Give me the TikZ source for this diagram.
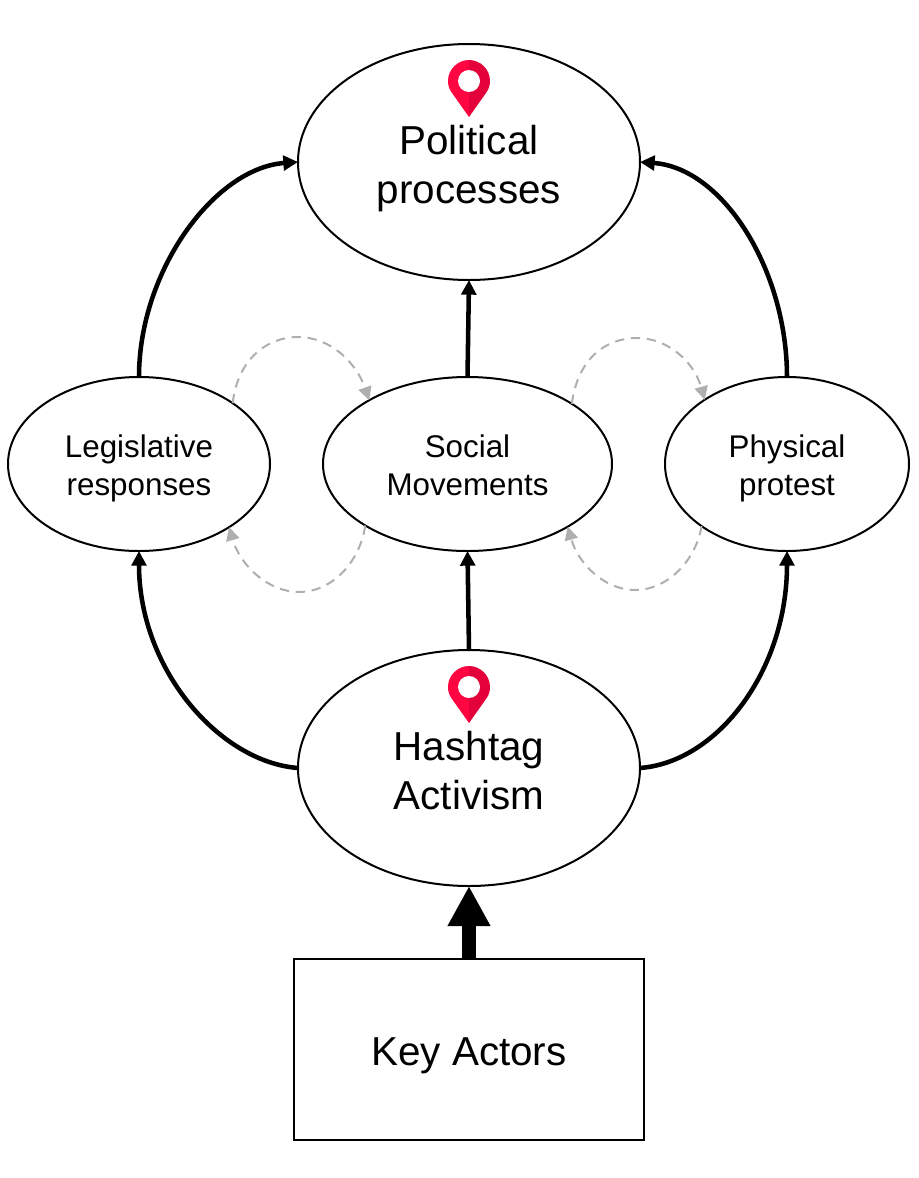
\documentclass[tikz,border=0pt]{standalone}
\usepackage{fontspec}
\setmainfont{Liberation Sans}
\usetikzlibrary{arrows.meta,shapes.geometric}
\definecolor{pinL}{HTML}{FF0541}
\definecolor{pinR}{HTML}{E4003A}
\definecolor{loopgray}{HTML}{B0AEAE}
\tikzset{
  oval/.style={ellipse,draw=black,line width=1.5pt,inner sep=0pt,outer sep=0pt},
  bigoval/.style={oval,minimum width=256.5pt,minimum height=177pt},
  smalltext/.style={align=center,inner sep=0pt,font=\fontsize{23.5pt}{28.5pt}\selectfont},
  bigtext/.style={align=center,inner sep=0pt,font=\fontsize{30.3pt}{36.75pt}\selectfont},
  flow/.style={line width=3.4pt,-{Triangle[length=11pt,width=11pt]}},
  loopback/.style={line width=1.5pt,loopgray,dash pattern=on 7pt off 5pt,-{Triangle[length=10pt,width=10pt]}},
  bigarrow/.style={line width=10.5pt,-{Triangle[length=30pt,width=30pt]}},
  actorbox/.style={rectangle,draw=black,line width=1.5pt,inner sep=0pt,outer sep=0pt,minimum width=262.5pt,minimum height=135.75pt},
  pin/.pic={
    \fill[pinL] (0,36) -- (-17,12) .. controls (-20,8) and (-21,4) .. (-21,0) .. controls (-21,-12) and (-11,-21) .. (0,-21) -- cycle;
    \fill[pinR] (0,36) -- (17,12) .. controls (20,8) and (21,4) .. (21,0) .. controls (21,-12) and (11,-21) .. (0,-21) -- cycle;
    \fill[white] (0,0) circle[radius=8.25pt];
  }
}
\begin{document}
\begin{tikzpicture}[x=0.75pt,y=-0.75pt]
\useasboundingbox (0,0) rectangle (918,1178);
\node[bigoval] (pol) at (469,162) {};
\node[bigoval] (hash) at (469,768) {};
\node[oval,minimum width=196.5pt,minimum height=130.5pt] (leg) at (139,464) {};
\node[oval,minimum width=216.75pt,minimum height=130.5pt] (soc) at (467.5,464) {};
\node[oval,minimum width=183pt,minimum height=130.5pt] (phy) at (787,464) {};
\node[actorbox] (key) at (469,1049.5) {};
\node[bigtext] (poltext) at (469,169) {Political\\processes};
\node[bigtext] (hashtext) at (469,771) {Hashtag\\Activism};
\node[smalltext] (legtext) at (139,468) {Legislative\\responses};
\node[smalltext] (soctext) at (467.5,465) {Social\\Movements};
\node[smalltext] (phytext) at (787,468) {Physical\\protest};
\node[bigtext] (keytext) at (469,1056) {Key Actors};
\pic at (469,81) {pin};
\pic at (469,687) {pin};
% black flows
\draw[flow] (leg.north) .. controls (139,270) and (215,168) .. (pol.west);
\draw[flow] (phy.north) .. controls (787,270) and (723,168) .. (pol.east);
\draw[flow] (soc.north) -- (pol.south);
\draw[flow] (hash.north) -- (soc.south);
\draw[flow] (hash.west) .. controls (220,762) and (139,670) .. (leg.south);
\draw[flow] (hash.east) .. controls (718,762) and (787,670) .. (phy.south);
\draw[bigarrow] (key.north) -- (hash.south);
% gray loops
\coordinate (la) at (298,337);
\coordinate (lb) at (299,592);
\coordinate (ra) at (637,338);
\coordinate (rb) at (635,590);
\draw[loopback] (leg.33.3) .. controls (238,358) and (268,337) .. (la) .. controls (330,337) and (356,362) .. (soc.147.4);
\draw[loopback] (soc.211.8) .. controls (360,562) and (332,592) .. (lb) .. controls (268,592) and (240,565) .. (leg.325);
\draw[loopback] (soc.30.5) .. controls (578,358) and (606,338) .. (ra) .. controls (668,338) and (694,362) .. (phy.142.5);
\draw[loopback] (phy.216) .. controls (696,560) and (668,590) .. (rb) .. controls (604,590) and (578,563) .. (soc.328);
\end{tikzpicture}
\end{document}
